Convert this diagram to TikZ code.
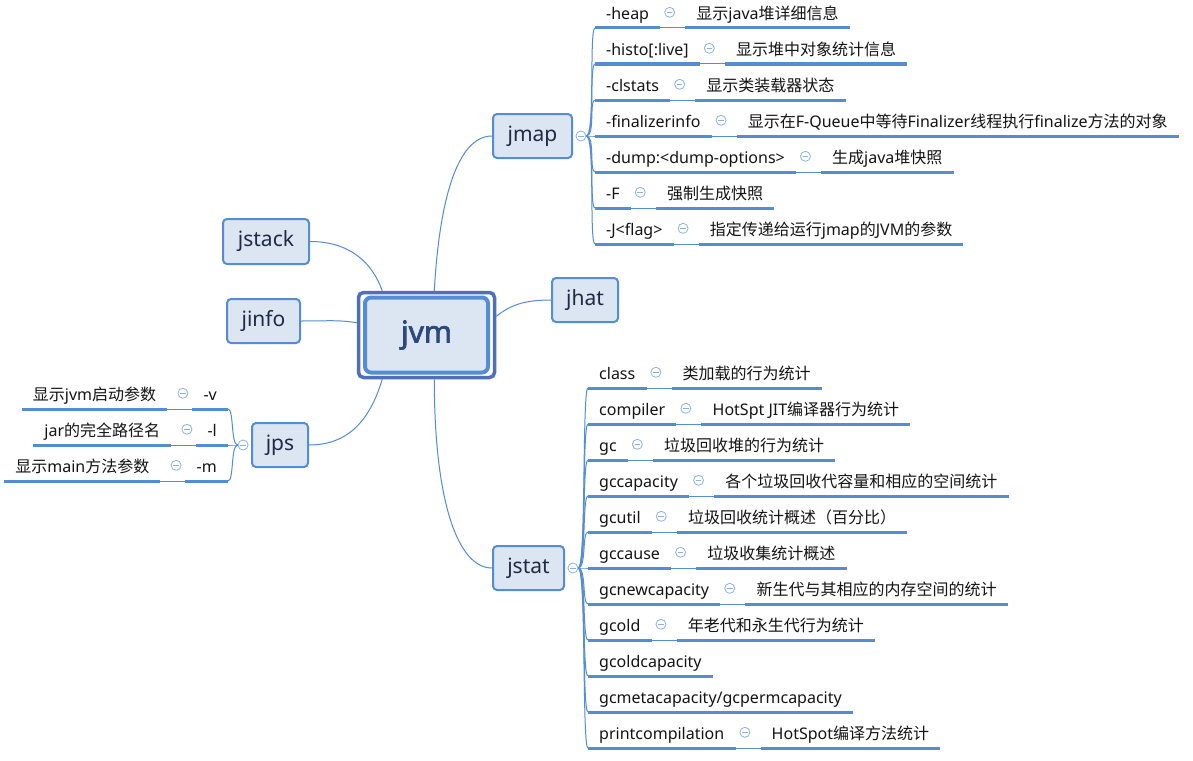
\documentclass[tikz,border=0pt]{standalone}
\usepackage{fontspec}
\setmainfont{Noto Sans}
\newfontfamily\cjkfont{Noto Sans CJK SC}
\newfontfamily\hubfont{Noto Sans}[FakeBold=2.2]
\usetikzlibrary{positioning}

% Chinese characters switch to the CJK font on their own
\XeTeXinterchartokenstate=1
\newXeTeXintercharclass\cjkclass
\newcount\cjkcode
\cjkcode="3000
\loop
  \XeTeXcharclass\cjkcode=\cjkclass
  \ifnum\cjkcode<"9FFF \advance\cjkcode by 1
\repeat
\cjkcode="FF00
\loop
  \XeTeXcharclass\cjkcode=\cjkclass
  \ifnum\cjkcode<"FFEF \advance\cjkcode by 1
\repeat
\XeTeXinterchartoks 0 \cjkclass = {\begingroup\cjkfont}
\XeTeXinterchartoks 4095 \cjkclass = {\begingroup\cjkfont}
\XeTeXinterchartoks \cjkclass 0 = {\endgroup}
\XeTeXinterchartoks \cjkclass 4095 = {\endgroup}

\definecolor{topicfill}{RGB}{220,230,242}
\definecolor{topicline}{RGB}{84,141,212}
\definecolor{topictext}{RGB}{31,42,68}
\definecolor{hubline}{RGB}{79,111,186}
\definecolor{hubtext}{RGB}{44,72,124}
\definecolor{foldline}{RGB}{141,178,226}
\definecolor{leaftext}{RGB}{20,20,20}

\tikzset{
  topic/.style={rectangle, rounded corners=4pt, draw=topicline, line width=2pt, fill=topicfill, text=topictext, font=\fontsize{21}{25}\selectfont, minimum height=44pt, inner sep=0pt},
  hubframe/.style={rectangle, rounded corners=5pt, draw=hubline, line width=3.5pt, fill=white, minimum width=136pt, minimum height=85pt},
  hub/.style={rectangle, rounded corners=6pt, draw=topicline, line width=4pt, fill=topicfill, text=hubtext, font=\hubfont\fontsize{30}{36}\selectfont\bfseries, minimum width=123pt, minimum height=75pt},
  leaf/.style={inner xsep=11pt, inner ysep=4pt, text height=13pt, text depth=4pt, text=leaftext, font=\fontsize{16}{19}\selectfont},
  opt/.style={leaf, anchor=south west},
  lopt/.style={leaf, anchor=south east},
  fold/.style={circle, draw=foldline, fill=white, line width=0.8pt, minimum size=10pt, inner sep=0pt,
    path picture={\draw[foldline, line width=0.8pt] ([xshift=2.2pt]path picture bounding box.west) -- ([xshift=-2.2pt]path picture bounding box.east);}},
  uline/.style={draw=topicline, line width=3pt},
  link/.style={draw=topicline, line width=1pt}
}

\begin{document}
\begin{tikzpicture}[x=1pt, y=-1pt]
\path[use as bounding box, fill=white] (0,0) rectangle (1193,760);

% centre topic
\node (jvmframe) [hubframe] at (426.5,335) {};
\node (jvm) [hub] at (jvmframe.center) {jvm};

% main branches
\node (jstack) [topic, minimum width=86pt, minimum height=45pt] at (266,241.5) {jstack};
\node (jinfo) [topic, minimum width=73pt] at (263.5,321) {jinfo};
\node (jmap) [topic, minimum width=79pt] at (532.5,136) {jmap};
\node (jhat) [topic, minimum width=66pt] at (585,300) {jhat};
\node (jstat) [topic, minimum width=71pt] at (528.5,568) {jstat};
\node (jps) [topic, minimum width=56pt] at (280,445) {jps};

\draw[link] (jstack.east) .. controls +(40,0) and +(-10,-28) .. (jvmframe.135);
\draw[link] (jinfo.east) .. controls +(30,0) and +(-20,-3) .. (jvmframe.170);
\draw[link] (jvmframe.80) .. controls +(5,-90) and +(-35,0) .. (jmap.west);
\draw[link] (jvmframe.15) .. controls +(15,-12) and +(-25,0) .. (jhat.west);
\draw[link] (jvmframe.225) .. controls +(-12,40) and +(40,0) .. (jps.east);
\draw[link] (jvmframe.-80) .. controls +(0,120) and +(-35,0) .. (jstat.west);

\node (jmapfold) [fold, right=2.5pt of jmap.east] {};
\node (jstatfold) [fold, right=2.5pt of jstat.east] {};
\node (jpsfold) [fold, left=2.5pt of jps.west] {};

% jmap options
\node (heap) [opt] at (595,28) {-heap};
\node (histo) [opt] at (595,64) {-histo[:live]};
\node (clstats) [opt] at (595,100) {-clstats};
\node (finfo) [opt] at (595,136) {-finalizerinfo};
\node (dump) [opt] at (595,172) {-dump:<dump-options>};
\node (force) [opt] at (595,208) {-F};
\node (jflag) [opt] at (595,244) {-J<flag>};

\node (heapdesc) [leaf, right=25pt of heap.south east, anchor=south west] {显示java堆详细信息};
\node (histodesc) [leaf, right=25pt of histo.south east, anchor=south west] {显示堆中对象统计信息};
\node (clstatsdesc) [leaf, right=25pt of clstats.south east, anchor=south west] {显示类装载器状态};
\node (finfodesc) [leaf, right=25pt of finfo.south east, anchor=south west] {显示在F-Queue中等待Finalizer线程执行finalize方法的对象};
\node (dumpdesc) [leaf, right=25pt of dump.south east, anchor=south west] {生成java堆快照};
\node (forcedesc) [leaf, right=25pt of force.south east, anchor=south west] {强制生成快照};
\node (jflagdesc) [leaf, right=25pt of jflag.south east, anchor=south west] {指定传递给运行jmap的JVM的参数};

% jstat options
\node (class) [opt] at (588,388) {class};
\node (compiler) [opt] at (588,424) {compiler};
\node (gc) [opt] at (588,460) {gc};
\node (gccap) [opt] at (588,496) {gccapacity};
\node (gcutil) [opt] at (588,532) {gcutil};
\node (gccause) [opt] at (588,568) {gccause};
\node (gcnew) [opt] at (588,604) {gcnewcapacity};
\node (gcold) [opt] at (588,640) {gcold};
\node (gcoldcap) [opt] at (588,676) {gcoldcapacity};
\node (gcmeta) [opt] at (588,712) {gcmetacapacity/gcpermcapacity};
\node (printcomp) [opt] at (588,748) {printcompilation};

\node (classdesc) [leaf, right=25pt of class.south east, anchor=south west] {类加载的行为统计};
\node (compilerdesc) [leaf, right=25pt of compiler.south east, anchor=south west] {HotSpt JIT编译器行为统计};
\node (gcdesc) [leaf, right=25pt of gc.south east, anchor=south west] {垃圾回收堆的行为统计};
\node (gccapdesc) [leaf, right=25pt of gccap.south east, anchor=south west] {各个垃圾回收代容量和相应的空间统计};
\node (gcutildesc) [leaf, right=25pt of gcutil.south east, anchor=south west] {垃圾回收统计概述（百分比）};
\node (gccausedesc) [leaf, right=25pt of gccause.south east, anchor=south west] {垃圾收集统计概述};
\node (gcnewdesc) [leaf, right=25pt of gcnew.south east, anchor=south west] {新生代与其相应的内存空间的统计};
\node (gcolddesc) [leaf, right=25pt of gcold.south east, anchor=south west] {年老代和永生代行为统计};
\node (printcompdesc) [leaf, right=25pt of printcomp.south east, anchor=south west] {HotSpot编译方法统计};

% jps options
\node (jpsv) [lopt] at (228,409) {-v};
\node (jpsl) [lopt] at (228,445) {-l};
\node (jpsm) [lopt] at (228,481) {-m};

\node (jpsvdesc) [leaf, left=25pt of jpsv.south west, anchor=south east] {显示jvm启动参数};
\node (jpsldesc) [leaf, left=25pt of jpsl.south west, anchor=south east] {jar的完全路径名};
\node (jpsmdesc) [leaf, left=25pt of jpsm.south west, anchor=south east] {显示main方法参数};

% branches into the options
\foreach \o in {heap,histo,clstats,finfo,dump,force,jflag}
  \draw[link] (jmapfold.east) .. controls +(9,0) and +(-6,0) .. (\o.south west);
\foreach \o in {class,compiler,gc,gccap,gcutil,gccause,gcnew,gcold,gcoldcap,gcmeta,printcomp}
  \draw[link] (jstatfold.east) .. controls +(8,0) and +(-6,0) .. (\o.south west);
\foreach \o in {jpsv,jpsl,jpsm}
  \draw[link] (jpsfold.west) .. controls +(-7,0) and +(6,0) .. (\o.south east);

% underlines, with a fold mark between option and its text
\foreach \o/\d in {heap/heapdesc,histo/histodesc,clstats/clstatsdesc,finfo/finfodesc,dump/dumpdesc,force/forcedesc,jflag/jflagdesc,
    class/classdesc,compiler/compilerdesc,gc/gcdesc,gccap/gccapdesc,gcutil/gcutildesc,gccause/gccausedesc,gcnew/gcnewdesc,gcold/gcolddesc,printcomp/printcompdesc}{
  \draw[uline] (\o.south west) -- (\o.south east);
  \draw[link] (\o.south east) -- (\d.south west);
  \draw[uline] (\d.south west) -- (\d.south east);
  \node [fold, right=4pt of \o.east, yshift=3pt] {};
}
\foreach \o/\d in {jpsv/jpsvdesc,jpsl/jpsldesc,jpsm/jpsmdesc}{
  \draw[uline] (\o.south west) -- (\o.south east);
  \draw[link] (\o.south west) -- (\d.south east);
  \draw[uline] (\d.south west) -- (\d.south east);
  \node [fold, left=4pt of \o.west, yshift=3pt] {};
}
\draw[uline] (gcoldcap.south west) -- (gcoldcap.south east);
\draw[uline] (gcmeta.south west) -- (gcmeta.south east);
\end{tikzpicture}
\end{document}
